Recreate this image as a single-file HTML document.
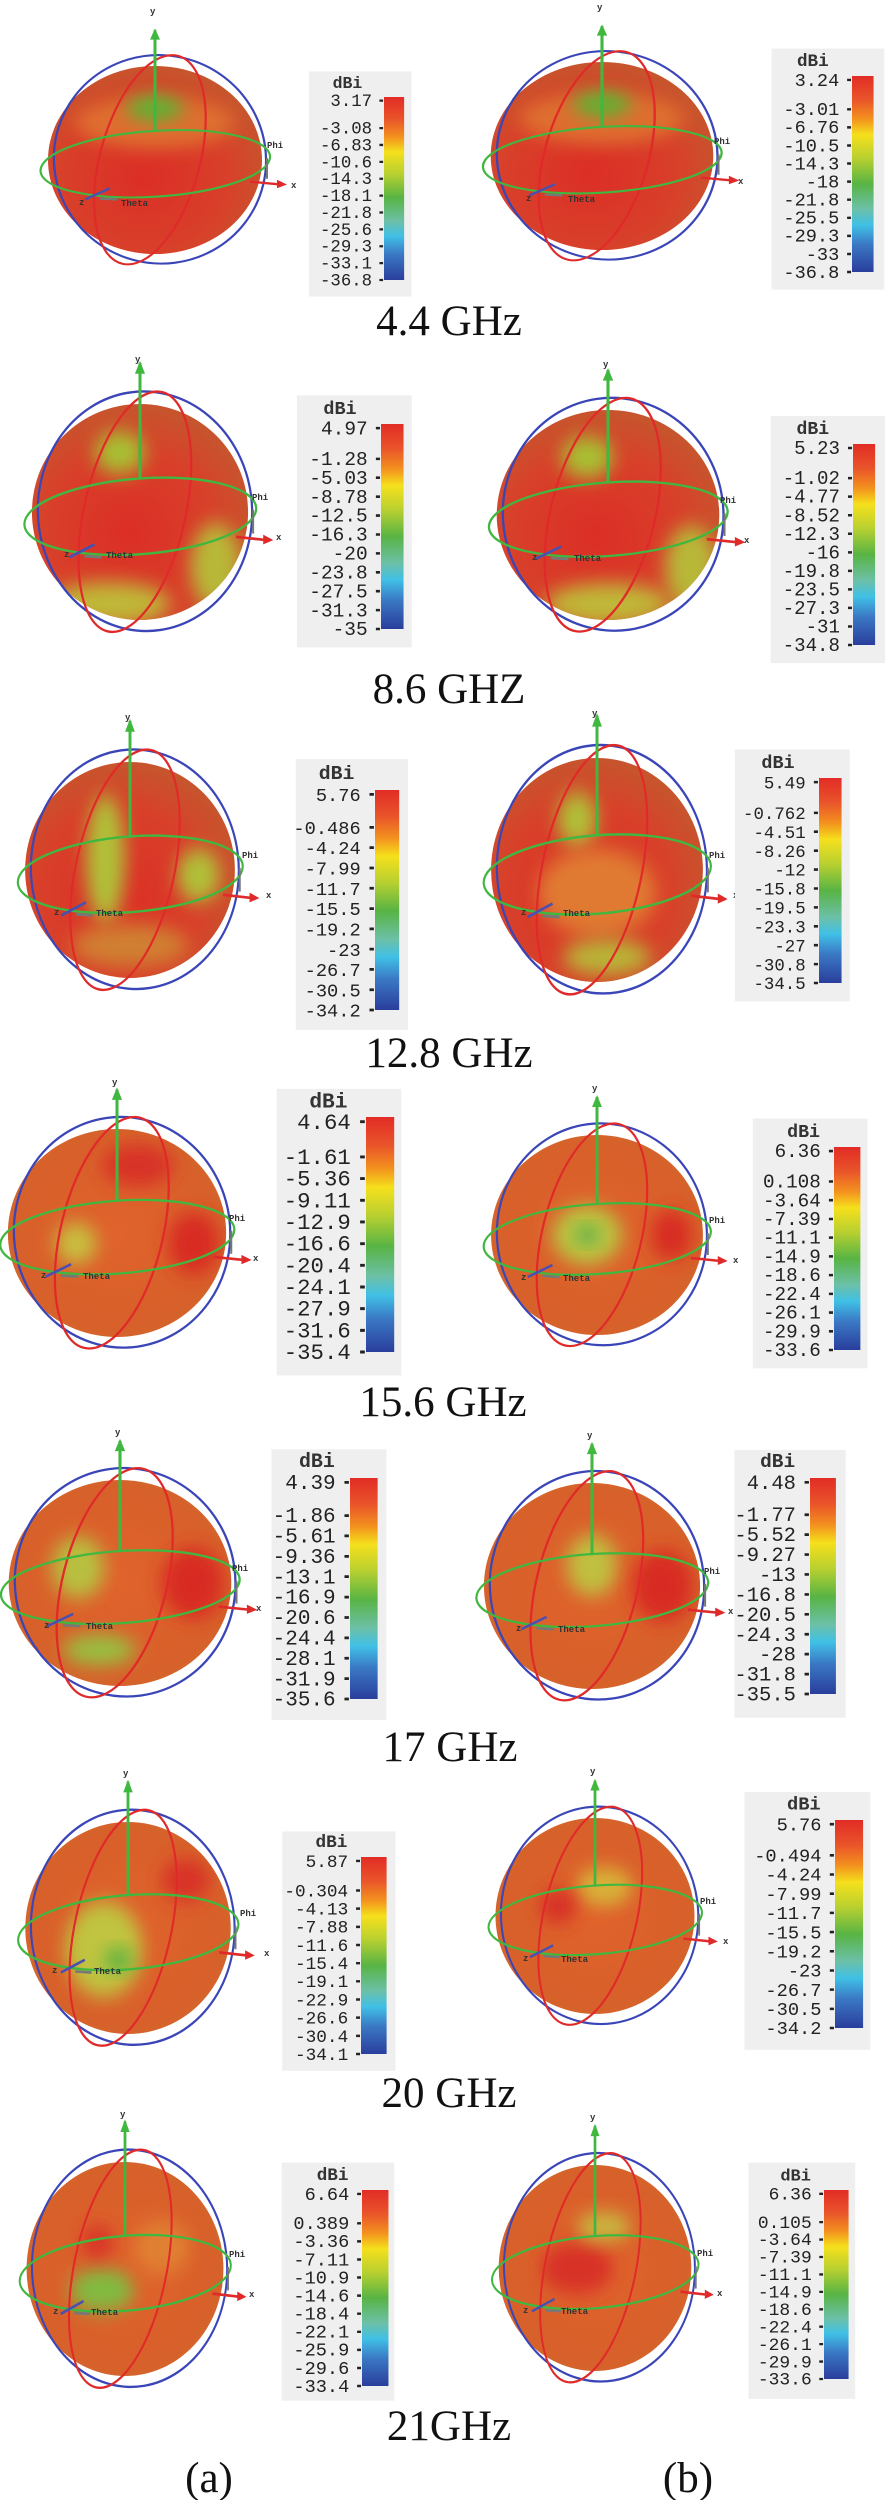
<!DOCTYPE html>
<html><head><meta charset="utf-8"><style>
html,body{margin:0;padding:0;background:#fff}
svg{display:block}
.L{font-family:"Liberation Serif",serif;font-size:43px;fill:#111;text-anchor:middle}
.n{font-family:"Liberation Mono",monospace;font-size:19px;fill:#222;text-anchor:end}
.h{font-family:"Liberation Mono",monospace;font-size:18px;fill:#333;text-anchor:middle;font-weight:bold}
.s{font-family:"Liberation Mono",monospace;font-size:9px;fill:#333;font-weight:bold}
ellipse[filter]{clip-path:url(#cl)}
</style></head><body>
<svg width="885" height="2500" viewBox="0 0 885 2500" xmlns="http://www.w3.org/2000/svg">
<defs>
<clipPath id="cl" clipPathUnits="userSpaceOnUse"><ellipse rx="107" ry="100"/></clipPath>
<linearGradient id="cb" x1="0" y1="0" x2="0" y2="1">
<stop offset="0" stop-color="#e22c26"/><stop offset=".12" stop-color="#e9542a"/><stop offset=".22" stop-color="#f3921e"/><stop offset=".3" stop-color="#f5e01c"/><stop offset=".42" stop-color="#b8d030"/><stop offset=".55" stop-color="#58b444"/><stop offset=".68" stop-color="#6cc0a8"/><stop offset=".76" stop-color="#40c0e6"/><stop offset=".86" stop-color="#3a78c4"/><stop offset="1" stop-color="#2a3e9c"/>
</linearGradient>
<radialGradient id="gA" cx=".45" cy=".6" r=".65"><stop offset="0" stop-color="#dc2e26"/><stop offset=".6" stop-color="#d8402a"/><stop offset="1" stop-color="#c25a2e"/></radialGradient>
<radialGradient id="gB" cx=".5" cy=".5" r=".65"><stop offset="0" stop-color="#e0622c"/><stop offset=".7" stop-color="#d8602a"/><stop offset="1" stop-color="#c8702e"/></radialGradient>
<filter id="bl" x="-50%" y="-50%" width="200%" height="200%"><feGaussianBlur stdDeviation="9"/></filter>
<g id="rings" fill="none" stroke-width="2.2">
<ellipse cx="5" cy="0" rx="106" ry="111" stroke="#3a45b8" transform="rotate(-8)"/>
<ellipse cx="-5" cy="1" rx="50" ry="114" stroke="#e02a2a" transform="rotate(14)"/>
<ellipse cx="0" cy="4" rx="115" ry="35" stroke="#40b840" transform="rotate(-4)"/>
<line x1="0" y1="-30" x2="0" y2="-138" stroke="#40b840" stroke-width="3"/>
<path d="M-5 -128 L0 -140 L5 -128Z" fill="#40b840" stroke="none"/>
<line x1="95" y1="23" x2="125" y2="26" stroke="#e02a2a" stroke-width="2.5"/>
<path d="M122 21 L132 26 L122 30Z" fill="#e02a2a" stroke="none"/>
<line x1="-70" y1="42" x2="-45" y2="30" stroke="#4a50b0" stroke-width="2.5"/>
<line x1="-55" y1="41" x2="-38" y2="42" stroke="#777" stroke-width="2.5"/>
<line x1="112" y1="-2" x2="112" y2="20" stroke="#777" stroke-width="2"/>
</g>
</defs>

<!-- ===== BLOBS ===== -->
<g transform="translate(155,160)">
<g transform="scale(1,0.94)"><ellipse rx="107" ry="100" fill="url(#gA)"/>
<ellipse cx="0" cy="-40" rx="80" ry="28" fill="#e07a30" opacity=".8" filter="url(#bl)"/>
<ellipse cx="0" cy="-55" rx="28" ry="14" fill="#60b030" filter="url(#bl)"/>
<use href="#rings"/></g>
<text class="s" x="-5" y="-146">y</text><text class="s" x="112" y="-12">Phi</text><text class="s" x="136" y="28">x</text><text class="s" x="-76" y="45">z</text><text class="s" x="-34" y="46">Theta</text></g>

<g transform="translate(602,156)">
<g transform="scale(1.04,0.94)"><ellipse rx="107" ry="100" fill="url(#gA)"/>
<ellipse cx="0" cy="-40" rx="80" ry="28" fill="#e07a30" opacity=".8" filter="url(#bl)"/>
<ellipse cx="0" cy="-55" rx="28" ry="14" fill="#60b030" filter="url(#bl)"/>
<use href="#rings"/></g>
<text class="s" x="-5" y="-146">y</text><text class="s" x="112" y="-12">Phi</text><text class="s" x="136" y="28">x</text><text class="s" x="-76" y="45">z</text><text class="s" x="-34" y="46">Theta</text></g>

<g transform="translate(140,512)">
<g transform="scale(1.01,1.08)"><ellipse rx="107" ry="100" fill="url(#gA)"/>
<ellipse cx="-20" cy="-55" rx="25" ry="20" fill="#a8c030" filter="url(#bl)"/>
<ellipse cx="75" cy="50" rx="25" ry="40" fill="#b8b838" filter="url(#bl)"/>
<ellipse cx="-30" cy="85" rx="60" ry="20" fill="#c0b838" filter="url(#bl)"/>
<use href="#rings"/></g>
<text class="s" x="-5" y="-150">y</text><text class="s" x="112" y="-12">Phi</text><text class="s" x="136" y="28">x</text><text class="s" x="-76" y="45">z</text><text class="s" x="-34" y="46">Theta</text></g>

<g transform="translate(608,515)">
<g transform="scale(1.04,1.05)"><ellipse rx="107" ry="100" fill="url(#gA)"/>
<ellipse cx="-20" cy="-55" rx="25" ry="20" fill="#a8c030" filter="url(#bl)"/>
<ellipse cx="80" cy="50" rx="25" ry="40" fill="#b8b838" filter="url(#bl)"/>
<ellipse cx="0" cy="85" rx="60" ry="20" fill="#c0b838" filter="url(#bl)"/>
<use href="#rings"/></g>
<text class="s" x="-5" y="-148">y</text><text class="s" x="112" y="-12">Phi</text><text class="s" x="136" y="28">x</text><text class="s" x="-76" y="45">z</text><text class="s" x="-34" y="46">Theta</text></g>

<g transform="translate(130,870)">
<g transform="scale(0.98,1.08)"><ellipse rx="107" ry="100" fill="url(#gA)"/>
<ellipse cx="-25" cy="-10" rx="20" ry="60" fill="#b0c038" filter="url(#bl)"/>
<ellipse cx="70" cy="5" rx="22" ry="25" fill="#b0c038" filter="url(#bl)"/>
<ellipse cx="0" cy="70" rx="60" ry="20" fill="#d08030" filter="url(#bl)"/>
<use href="#rings"/></g>
<text class="s" x="-5" y="-150">y</text><text class="s" x="112" y="-12">Phi</text><text class="s" x="136" y="28">x</text><text class="s" x="-76" y="45">z</text><text class="s" x="-34" y="46">Theta</text></g>

<g transform="translate(597,870)">
<g transform="scale(0.99,1.12)"><ellipse rx="107" ry="100" fill="url(#gA)"/>
<ellipse cx="-20" cy="-45" rx="20" ry="25" fill="#b0c038" filter="url(#bl)"/>
<ellipse cx="0" cy="20" rx="60" ry="40" fill="#e07a30" filter="url(#bl)"/>
<ellipse cx="10" cy="78" rx="45" ry="16" fill="#b8b838" filter="url(#bl)"/>
<use href="#rings"/></g>
<text class="s" x="-5" y="-154">y</text><text class="s" x="112" y="-12">Phi</text><text class="s" x="136" y="28">x</text><text class="s" x="-76" y="45">z</text><text class="s" x="-34" y="46">Theta</text></g>

<g transform="translate(117,1233)">
<g transform="scale(1.02,1.04)"><ellipse rx="107" ry="100" fill="url(#gB)"/>
<ellipse cx="20" cy="-65" rx="35" ry="20" fill="#d83026" filter="url(#bl)"/>
<ellipse cx="75" cy="10" rx="25" ry="30" fill="#d82c24" filter="url(#bl)"/>
<ellipse cx="-40" cy="10" rx="20" ry="20" fill="#c8c040" filter="url(#bl)"/>
<use href="#rings"/></g>
<text class="s" x="-5" y="-148">y</text><text class="s" x="112" y="-12">Phi</text><text class="s" x="136" y="28">x</text><text class="s" x="-76" y="45">z</text><text class="s" x="-34" y="46">Theta</text></g>

<g transform="translate(597,1235)">
<g transform="scale(0.99,1.0)"><ellipse rx="107" ry="100" fill="url(#gB)"/>
<ellipse cx="-10" cy="0" rx="35" ry="30" fill="#b8c440" filter="url(#bl)"/>
<ellipse cx="-10" cy="0" rx="10" ry="8" fill="#3aa850" filter="url(#bl)"/>
<ellipse cx="75" cy="0" rx="20" ry="25" fill="#d82c24" filter="url(#bl)"/>
<use href="#rings"/></g>
<text class="s" x="-5" y="-144">y</text><text class="s" x="112" y="-12">Phi</text><text class="s" x="136" y="28">x</text><text class="s" x="-76" y="45">z</text><text class="s" x="-34" y="46">Theta</text></g>

<g transform="translate(120,1583)">
<g transform="scale(1.04,1.03)"><ellipse rx="107" ry="100" fill="url(#gB)"/>
<ellipse cx="-40" cy="-15" rx="25" ry="30" fill="#b8c040" filter="url(#bl)"/>
<ellipse cx="70" cy="0" rx="30" ry="35" fill="#d82c24" filter="url(#bl)"/>
<ellipse cx="-20" cy="65" rx="35" ry="15" fill="#98c040" filter="url(#bl)"/>
<use href="#rings"/></g>
<text class="s" x="-5" y="-148">y</text><text class="s" x="112" y="-12">Phi</text><text class="s" x="136" y="28">x</text><text class="s" x="-76" y="45">z</text><text class="s" x="-34" y="46">Theta</text></g>

<g transform="translate(592,1586)">
<g transform="scale(1.01,1.03)"><ellipse rx="107" ry="100" fill="url(#gB)"/>
<ellipse cx="0" cy="-20" rx="25" ry="30" fill="#c0c040" filter="url(#bl)"/>
<ellipse cx="70" cy="0" rx="30" ry="35" fill="#d82c24" filter="url(#bl)"/>
<use href="#rings"/></g>
<text class="s" x="-5" y="-148">y</text><text class="s" x="112" y="-12">Phi</text><text class="s" x="136" y="28">x</text><text class="s" x="-76" y="45">z</text><text class="s" x="-34" y="46">Theta</text></g>

<g transform="translate(128,1928)">
<g transform="scale(0.96,1.06)"><ellipse rx="107" ry="100" fill="url(#gB)"/>
<ellipse cx="-25" cy="20" rx="40" ry="45" fill="#c0c440" filter="url(#bl)"/>
<ellipse cx="-10" cy="30" rx="15" ry="10" fill="#50b040" filter="url(#bl)"/>
<ellipse cx="60" cy="-45" rx="25" ry="20" fill="#d83026" filter="url(#bl)"/>
<use href="#rings"/></g>
<text class="s" x="-5" y="-152">y</text><text class="s" x="112" y="-12">Phi</text><text class="s" x="136" y="28">x</text><text class="s" x="-76" y="45">z</text><text class="s" x="-34" y="46">Theta</text></g>

<g transform="translate(595,1916)">
<g transform="scale(0.93,0.98)"><ellipse rx="107" ry="100" fill="url(#gB)"/>
<ellipse cx="10" cy="-30" rx="30" ry="20" fill="#d8b038" filter="url(#bl)"/>
<ellipse cx="-40" cy="-10" rx="20" ry="18" fill="#d83026" filter="url(#bl)"/>
<use href="#rings"/></g>
<text class="s" x="-5" y="-142">y</text><text class="s" x="105" y="-12">Phi</text><text class="s" x="128" y="28">x</text><text class="s" x="-72" y="45">z</text><text class="s" x="-34" y="46">Theta</text></g>

<g transform="translate(125,2269)">
<g transform="scale(0.92,1.07)"><ellipse rx="107" ry="100" fill="url(#gB)"/>
<ellipse cx="-25" cy="20" rx="35" ry="20" fill="#80bc40" filter="url(#bl)"/>
<ellipse cx="-30" cy="-25" rx="18" ry="15" fill="#d83026" filter="url(#bl)"/>
<ellipse cx="40" cy="-20" rx="30" ry="25" fill="#e08030" filter="url(#bl)"/>
<use href="#rings"/></g>
<text class="s" x="-5" y="-152">y</text><text class="s" x="104" y="-12">Phi</text><text class="s" x="124" y="28">x</text><text class="s" x="-72" y="45">z</text><text class="s" x="-34" y="46">Theta</text></g>

<g transform="translate(595,2268)">
<g transform="scale(0.9,1.03)"><ellipse rx="107" ry="100" fill="url(#gB)"/>
<ellipse cx="-20" cy="0" rx="40" ry="25" fill="#d83026" filter="url(#bl)"/>
<ellipse cx="10" cy="-40" rx="30" ry="14" fill="#c8b840" filter="url(#bl)"/>
<use href="#rings"/></g>
<text class="s" x="-5" y="-148">y</text><text class="s" x="102" y="-12">Phi</text><text class="s" x="122" y="28">x</text><text class="s" x="-72" y="45">z</text><text class="s" x="-34" y="46">Theta</text></g>

<!-- ===== COLORBARS ===== -->
<g transform="translate(384,97) scale(0.915)"><rect x="-82" y="-28" width="112" height="246" fill="#efefef"/><rect width="22" height="200" fill="url(#cb)"/><path d="M-5 4h4M-5 34h4M-5 52.4h4M-5 70.9h4M-5 89.3h4M-5 107.8h4M-5 126.2h4M-5 144.7h4M-5 163.1h4M-5 181.6h4M-5 200h4" stroke="#222" stroke-width="2.5"/><text class="h" x="-40" y="-10">dBi</text><text class="n"><tspan x="-13" y="10">3.17</tspan><tspan x="-13" y="40">-3.08</tspan><tspan x="-13" y="58.4">-6.83</tspan><tspan x="-13" y="76.9">-10.6</tspan><tspan x="-13" y="95.3">-14.3</tspan><tspan x="-13" y="113.8">-18.1</tspan><tspan x="-13" y="132.2">-21.8</tspan><tspan x="-13" y="150.7">-25.6</tspan><tspan x="-13" y="169.1">-29.3</tspan><tspan x="-13" y="187.6">-33.1</tspan><tspan x="-13" y="206">-36.8</tspan></text></g>

<g transform="translate(852,76) scale(0.98)"><rect x="-82" y="-28" width="115" height="246" fill="#efefef"/><rect width="22" height="200" fill="url(#cb)"/><path d="M-5 4h4M-5 34h4M-5 52.4h4M-5 70.9h4M-5 89.3h4M-5 107.8h4M-5 126.2h4M-5 144.7h4M-5 163.1h4M-5 181.6h4M-5 200h4" stroke="#222" stroke-width="2.5"/><text class="h" x="-40" y="-10">dBi</text><text class="n"><tspan x="-13" y="10">3.24</tspan><tspan x="-13" y="40">-3.01</tspan><tspan x="-13" y="58.4">-6.76</tspan><tspan x="-13" y="76.9">-10.5</tspan><tspan x="-13" y="95.3">-14.3</tspan><tspan x="-13" y="113.8">-18</tspan><tspan x="-13" y="132.2">-21.8</tspan><tspan x="-13" y="150.7">-25.5</tspan><tspan x="-13" y="169.1">-29.3</tspan><tspan x="-13" y="187.6">-33</tspan><tspan x="-13" y="206">-36.8</tspan></text></g>

<g transform="translate(381,424) scale(1.025)"><rect x="-82" y="-28" width="112" height="246" fill="#efefef"/><rect width="22" height="200" fill="url(#cb)"/><path d="M-5 4h4M-5 34h4M-5 52.4h4M-5 70.9h4M-5 89.3h4M-5 107.8h4M-5 126.2h4M-5 144.7h4M-5 163.1h4M-5 181.6h4M-5 200h4" stroke="#222" stroke-width="2.5"/><text class="h" x="-40" y="-10">dBi</text><text class="n"><tspan x="-13" y="10">4.97</tspan><tspan x="-13" y="40">-1.28</tspan><tspan x="-13" y="58.4">-5.03</tspan><tspan x="-13" y="76.9">-8.78</tspan><tspan x="-13" y="95.3">-12.5</tspan><tspan x="-13" y="113.8">-16.3</tspan><tspan x="-13" y="132.2">-20</tspan><tspan x="-13" y="150.7">-23.8</tspan><tspan x="-13" y="169.1">-27.5</tspan><tspan x="-13" y="187.6">-31.3</tspan><tspan x="-13" y="206">-35</tspan></text></g>

<g transform="translate(853,444) scale(1.005)"><rect x="-82" y="-28" width="115" height="246" fill="#efefef"/><rect width="22" height="200" fill="url(#cb)"/><path d="M-5 4h4M-5 34h4M-5 52.4h4M-5 70.9h4M-5 89.3h4M-5 107.8h4M-5 126.2h4M-5 144.7h4M-5 163.1h4M-5 181.6h4M-5 200h4" stroke="#222" stroke-width="2.5"/><text class="h" x="-40" y="-10">dBi</text><text class="n"><tspan x="-13" y="10">5.23</tspan><tspan x="-13" y="40">-1.02</tspan><tspan x="-13" y="58.4">-4.77</tspan><tspan x="-13" y="76.9">-8.52</tspan><tspan x="-13" y="95.3">-12.3</tspan><tspan x="-13" y="113.8">-16</tspan><tspan x="-13" y="132.2">-19.8</tspan><tspan x="-13" y="150.7">-23.5</tspan><tspan x="-13" y="169.1">-27.3</tspan><tspan x="-13" y="187.6">-31</tspan><tspan x="-13" y="206">-34.8</tspan></text></g>

<g transform="translate(375,790) scale(1.1)"><rect x="-72" y="-28" width="102" height="246" fill="#efefef"/><rect width="22" height="200" fill="url(#cb)"/><path d="M-5 4h4M-5 34h4M-5 52.4h4M-5 70.9h4M-5 89.3h4M-5 107.8h4M-5 126.2h4M-5 144.7h4M-5 163.1h4M-5 181.6h4M-5 200h4" stroke="#222" stroke-width="2.5"/><text class="h" x="-35" y="-10">dBi</text><text class="n" style="font-size:17px"><tspan x="-13" y="10">5.76</tspan><tspan x="-13" y="40">-0.486</tspan><tspan x="-13" y="58.4">-4.24</tspan><tspan x="-13" y="76.9">-7.99</tspan><tspan x="-13" y="95.3">-11.7</tspan><tspan x="-13" y="113.8">-15.5</tspan><tspan x="-13" y="132.2">-19.2</tspan><tspan x="-13" y="150.7">-23</tspan><tspan x="-13" y="169.1">-26.7</tspan><tspan x="-13" y="187.6">-30.5</tspan><tspan x="-13" y="206">-34.2</tspan></text></g>

<g transform="translate(819,778) scale(1.025)"><rect x="-82" y="-28" width="112" height="246" fill="#efefef"/><rect width="22" height="200" fill="url(#cb)"/><path d="M-5 4h4M-5 34h4M-5 52.4h4M-5 70.9h4M-5 89.3h4M-5 107.8h4M-5 126.2h4M-5 144.7h4M-5 163.1h4M-5 181.6h4M-5 200h4" stroke="#222" stroke-width="2.5"/><text class="h" x="-40" y="-10">dBi</text><text class="n" style="font-size:17px"><tspan x="-13" y="10">5.49</tspan><tspan x="-13" y="40">-0.762</tspan><tspan x="-13" y="58.4">-4.51</tspan><tspan x="-13" y="76.9">-8.26</tspan><tspan x="-13" y="95.3">-12</tspan><tspan x="-13" y="113.8">-15.8</tspan><tspan x="-13" y="132.2">-19.5</tspan><tspan x="-13" y="150.7">-23.3</tspan><tspan x="-13" y="169.1">-27</tspan><tspan x="-13" y="187.6">-30.8</tspan><tspan x="-13" y="206">-34.5</tspan></text></g>

<g transform="translate(366,1117) scale(1.175)"><rect x="-76" y="-24" width="106" height="244" fill="#efefef"/><rect width="24" height="200" fill="url(#cb)"/><path d="M-5 4h4M-5 34h4M-5 52.4h4M-5 70.9h4M-5 89.3h4M-5 107.8h4M-5 126.2h4M-5 144.7h4M-5 163.1h4M-5 181.6h4M-5 200h4" stroke="#222" stroke-width="2.5"/><text class="h" x="-32" y="-8">dBi</text><text class="n"><tspan x="-13" y="10">4.64</tspan><tspan x="-13" y="40">-1.61</tspan><tspan x="-13" y="58.4">-5.36</tspan><tspan x="-13" y="76.9">-9.11</tspan><tspan x="-13" y="95.3">-12.9</tspan><tspan x="-13" y="113.8">-16.6</tspan><tspan x="-13" y="132.2">-20.4</tspan><tspan x="-13" y="150.7">-24.1</tspan><tspan x="-13" y="169.1">-27.9</tspan><tspan x="-13" y="187.6">-31.6</tspan><tspan x="-13" y="206">-35.4</tspan></text></g>

<g transform="translate(834,1147) scale(1.015)"><rect x="-80" y="-28" width="113" height="246" fill="#efefef"/><rect width="26" height="200" fill="url(#cb)"/><path d="M-5 4h4M-5 34h4M-5 52.4h4M-5 70.9h4M-5 89.3h4M-5 107.8h4M-5 126.2h4M-5 144.7h4M-5 163.1h4M-5 181.6h4M-5 200h4" stroke="#222" stroke-width="2.5"/><text class="h" x="-30" y="-10">dBi</text><text class="n"><tspan x="-13" y="10">6.36</tspan><tspan x="-13" y="40">0.108</tspan><tspan x="-13" y="58.4">-3.64</tspan><tspan x="-13" y="76.9">-7.39</tspan><tspan x="-13" y="95.3">-11.1</tspan><tspan x="-13" y="113.8">-14.9</tspan><tspan x="-13" y="132.2">-18.6</tspan><tspan x="-13" y="150.7">-22.4</tspan><tspan x="-13" y="169.1">-26.1</tspan><tspan x="-13" y="187.6">-29.9</tspan><tspan x="-13" y="206">-33.6</tspan></text></g>

<g transform="translate(350,1478) scale(1.105)"><rect x="-71" y="-26" width="104" height="245" fill="#efefef"/><rect width="25" height="200" fill="url(#cb)"/><path d="M-5 4h4M-5 34h4M-5 52.4h4M-5 70.9h4M-5 89.3h4M-5 107.8h4M-5 126.2h4M-5 144.7h4M-5 163.1h4M-5 181.6h4M-5 200h4" stroke="#222" stroke-width="2.5"/><text class="h" x="-30" y="-10">dBi</text><text class="n"><tspan x="-13" y="10">4.39</tspan><tspan x="-13" y="40">-1.86</tspan><tspan x="-13" y="58.4">-5.61</tspan><tspan x="-13" y="76.9">-9.36</tspan><tspan x="-13" y="95.3">-13.1</tspan><tspan x="-13" y="113.8">-16.9</tspan><tspan x="-13" y="132.2">-20.6</tspan><tspan x="-13" y="150.7">-24.4</tspan><tspan x="-13" y="169.1">-28.1</tspan><tspan x="-13" y="187.6">-31.9</tspan><tspan x="-13" y="206">-35.6</tspan></text></g>

<g transform="translate(810,1478) scale(1.08)"><rect x="-70" y="-26" width="103" height="248" fill="#efefef"/><rect width="24" height="200" fill="url(#cb)"/><path d="M-5 4h4M-5 34h4M-5 52.4h4M-5 70.9h4M-5 89.3h4M-5 107.8h4M-5 126.2h4M-5 144.7h4M-5 163.1h4M-5 181.6h4M-5 200h4" stroke="#222" stroke-width="2.5"/><text class="h" x="-30" y="-10">dBi</text><text class="n"><tspan x="-13" y="10">4.48</tspan><tspan x="-13" y="40">-1.77</tspan><tspan x="-13" y="58.4">-5.52</tspan><tspan x="-13" y="76.9">-9.27</tspan><tspan x="-13" y="95.3">-13</tspan><tspan x="-13" y="113.8">-16.8</tspan><tspan x="-13" y="132.2">-20.5</tspan><tspan x="-13" y="150.7">-24.3</tspan><tspan x="-13" y="169.1">-28</tspan><tspan x="-13" y="187.6">-31.8</tspan><tspan x="-13" y="206">-35.5</tspan></text></g>

<g transform="translate(361,1857) scale(0.985)"><rect x="-80" y="-26" width="115" height="243" fill="#efefef"/><rect width="26" height="200" fill="url(#cb)"/><path d="M-5 4h4M-5 34h4M-5 52.4h4M-5 70.9h4M-5 89.3h4M-5 107.8h4M-5 126.2h4M-5 144.7h4M-5 163.1h4M-5 181.6h4M-5 200h4" stroke="#222" stroke-width="2.5"/><text class="h" x="-30" y="-10">dBi</text><text class="n" style="font-size:18px"><tspan x="-13" y="10">5.87</tspan><tspan x="-13" y="40">-0.304</tspan><tspan x="-13" y="58.4">-4.13</tspan><tspan x="-13" y="76.9">-7.88</tspan><tspan x="-13" y="95.3">-11.6</tspan><tspan x="-13" y="113.8">-15.4</tspan><tspan x="-13" y="132.2">-19.1</tspan><tspan x="-13" y="150.7">-22.9</tspan><tspan x="-13" y="169.1">-26.6</tspan><tspan x="-13" y="187.6">-30.4</tspan><tspan x="-13" y="206">-34.1</tspan></text></g>

<g transform="translate(835,1820) scale(1.04)"><rect x="-87" y="-27" width="121" height="248" fill="#efefef"/><rect width="27" height="200" fill="url(#cb)"/><path d="M-5 4h4M-5 34h4M-5 52.4h4M-5 70.9h4M-5 89.3h4M-5 107.8h4M-5 126.2h4M-5 144.7h4M-5 163.1h4M-5 181.6h4M-5 200h4" stroke="#222" stroke-width="2.5"/><text class="h" x="-30" y="-10">dBi</text><text class="n" style="font-size:18px"><tspan x="-13" y="10">5.76</tspan><tspan x="-13" y="40">-0.494</tspan><tspan x="-13" y="58.4">-4.24</tspan><tspan x="-13" y="76.9">-7.99</tspan><tspan x="-13" y="95.3">-11.7</tspan><tspan x="-13" y="113.8">-15.5</tspan><tspan x="-13" y="132.2">-19.2</tspan><tspan x="-13" y="150.7">-23</tspan><tspan x="-13" y="169.1">-26.7</tspan><tspan x="-13" y="187.6">-30.5</tspan><tspan x="-13" y="206">-34.2</tspan></text></g>

<g transform="translate(362,2190) scale(0.98)"><rect x="-82" y="-28" width="115" height="243" fill="#efefef"/><rect width="27" height="200" fill="url(#cb)"/><path d="M-5 4h4M-5 34h4M-5 52.4h4M-5 70.9h4M-5 89.3h4M-5 107.8h4M-5 126.2h4M-5 144.7h4M-5 163.1h4M-5 181.6h4M-5 200h4" stroke="#222" stroke-width="2.5"/><text class="h" x="-30" y="-10">dBi</text><text class="n"><tspan x="-13" y="10">6.64</tspan><tspan x="-13" y="40">0.389</tspan><tspan x="-13" y="58.4">-3.36</tspan><tspan x="-13" y="76.9">-7.11</tspan><tspan x="-13" y="95.3">-10.9</tspan><tspan x="-13" y="113.8">-14.6</tspan><tspan x="-13" y="132.2">-18.4</tspan><tspan x="-13" y="150.7">-22.1</tspan><tspan x="-13" y="169.1">-25.9</tspan><tspan x="-13" y="187.6">-29.6</tspan><tspan x="-13" y="206">-33.4</tspan></text></g>

<g transform="translate(824,2190) scale(0.945)"><rect x="-80" y="-29" width="113" height="250" fill="#efefef"/><rect width="26" height="200" fill="url(#cb)"/><path d="M-5 4h4M-5 34h4M-5 52.4h4M-5 70.9h4M-5 89.3h4M-5 107.8h4M-5 126.2h4M-5 144.7h4M-5 163.1h4M-5 181.6h4M-5 200h4" stroke="#222" stroke-width="2.5"/><text class="h" x="-30" y="-10">dBi</text><text class="n"><tspan x="-13" y="10">6.36</tspan><tspan x="-13" y="40">0.105</tspan><tspan x="-13" y="58.4">-3.64</tspan><tspan x="-13" y="76.9">-7.39</tspan><tspan x="-13" y="95.3">-11.1</tspan><tspan x="-13" y="113.8">-14.9</tspan><tspan x="-13" y="132.2">-18.6</tspan><tspan x="-13" y="150.7">-22.4</tspan><tspan x="-13" y="169.1">-26.1</tspan><tspan x="-13" y="187.6">-29.9</tspan><tspan x="-13" y="206">-33.6</tspan></text></g>

<!-- ===== Labels ===== -->
<text class="L" x="449" y="335">4.4 GHz</text>
<text class="L" x="449" y="703">8.6 GHZ</text>
<text class="L" x="449" y="1067">12.8 GHz</text>
<text class="L" x="443" y="1416">15.6 GHz</text>
<text class="L" x="450" y="1761">17 GHz</text>
<text class="L" x="449" y="2107">20 GHz</text>
<text class="L" x="449" y="2440">21GHz</text>
<text class="L" x="209" y="2492">(a)</text>
<text class="L" x="688" y="2492">(b)</text>
</svg>
</body></html>
